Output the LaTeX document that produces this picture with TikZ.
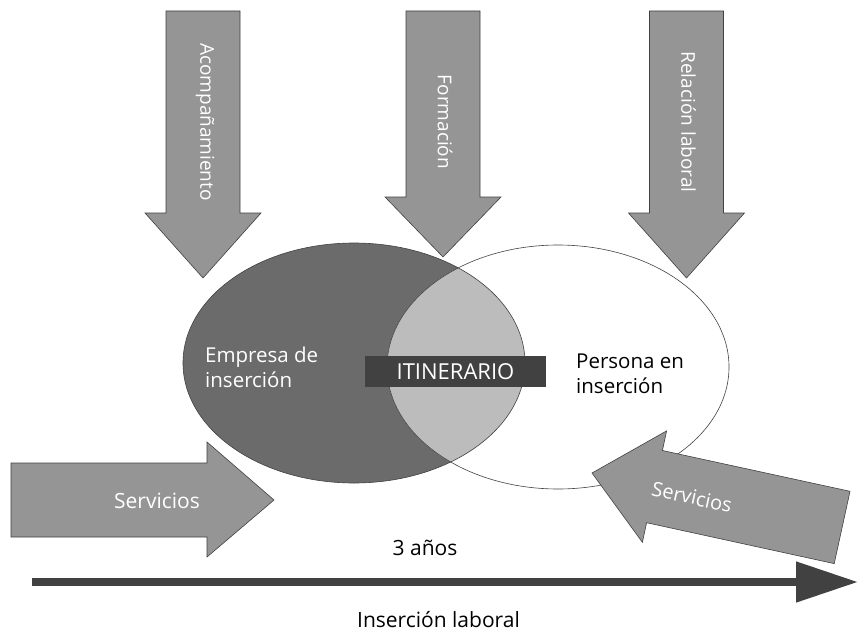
\documentclass[tikz,border=0pt]{standalone}
\usepackage{fontspec}
\setmainfont{Open Sans}
\usetikzlibrary{positioning,arrows.meta}
\definecolor{arrowgray}{HTML}{959595}
\definecolor{firmgray}{HTML}{6B6B6B}
\definecolor{overlapgray}{HTML}{BCBCBC}
\definecolor{inkgray}{HTML}{414141}
\tikzstyle{bigarrow}=[fill=arrowgray, draw=inkgray, line width=0.6pt, line join=miter]
\tikzstyle{arrowtext}=[text=white, font=\fontsize{19}{23}\selectfont, inner sep=0]
\tikzstyle{bodytext}=[font=\fontsize{20.5}{25}\selectfont, align=left, inner sep=0]
\tikzstyle{timetext}=[font=\fontsize{21}{25}\selectfont, inner sep=0, anchor=base]
\tikzstyle{venn}=[draw=inkgray, line width=0.6pt]
\tikzset{>={Triangle[length=62pt,width=39pt]}}

\begin{document}
\begin{tikzpicture}[x=1pt,y=-1pt]
    \useasboundingbox (0,0) rectangle (858,631);

    % los dos conjuntos
    \fill[firmgray] (354,363) ellipse [x radius=171, y radius=120];
    \fill[white] (558,367) ellipse [x radius=171, y radius=122];
    \begin{scope}
        \clip (354,363) ellipse [x radius=171, y radius=120];
        \fill[overlapgray] (558,367) ellipse [x radius=171, y radius=122];
    \end{scope}
    \draw[venn] (354,363) ellipse [x radius=171, y radius=120];
    \draw[venn] (558,367) ellipse [x radius=171, y radius=122];

    \node (empresa) [bodytext, text=white, anchor=north west] at (205,346.5) {Empresa de\\inserción};
    \node (persona) [bodytext, anchor=north west] at (576,353.5) {Persona en\\inserción};
    \node (itinerario) [fill=inkgray, text=white, font=\fontsize{22}{25}\selectfont, minimum width=181pt, minimum height=31pt, inner sep=0] at (455.5,371.5) {ITINERARIO};

    % flechas de arriba
    \foreach \cx/\hy/\ty/\lbl [count=\i] in {203/213/278/Acompañamiento, 443/197/257/Formación, 686.5/213/278/Relación laboral}{
        \draw[bigarrow] ({\cx-37},11) -- ({\cx+37},11) -- ({\cx+37},\hy) -- ({\cx+58},\hy)
            -- (\cx,\ty) -- ({\cx-58},\hy) -- ({\cx-37},\hy) -- cycle;
        \node (down\i) [arrowtext, rotate=-90] at ({\cx+2},122) {\lbl};
    };

    % servicios
    \draw[bigarrow] (11,463) -- (207,463) -- (207,442) -- (274,500) -- (207,557) -- (207,537) -- (11,537) -- cycle;
    \node (servfirm) [arrowtext, font=\fontsize{21}{25}\selectfont, anchor=base] at (157,508) {Servicios};

    \draw[bigarrow] (592,473) -- (666.6,430.9) -- (662.4,450.5) -- (850,491.3) -- (834.2,563.6)
        -- (646.6,522.7) -- (642.4,542.3) -- cycle;
    \node (servperson) [arrowtext, font=\fontsize{20}{25}\selectfont, rotate=-12.5] at (692,497) {Servicios};

    % linea de tiempo
    \coordinate (tlstart) at (32,582);
    \coordinate (tlend) at (858,582);
    \draw[inkgray, line width=8pt, ->] (tlstart) -- (tlend);

    \node (duration) [timetext] at (425,555) {3 años};
    \node (insertion) [timetext] at (438.5,627) {Inserción laboral};

\end{tikzpicture}
\end{document}
